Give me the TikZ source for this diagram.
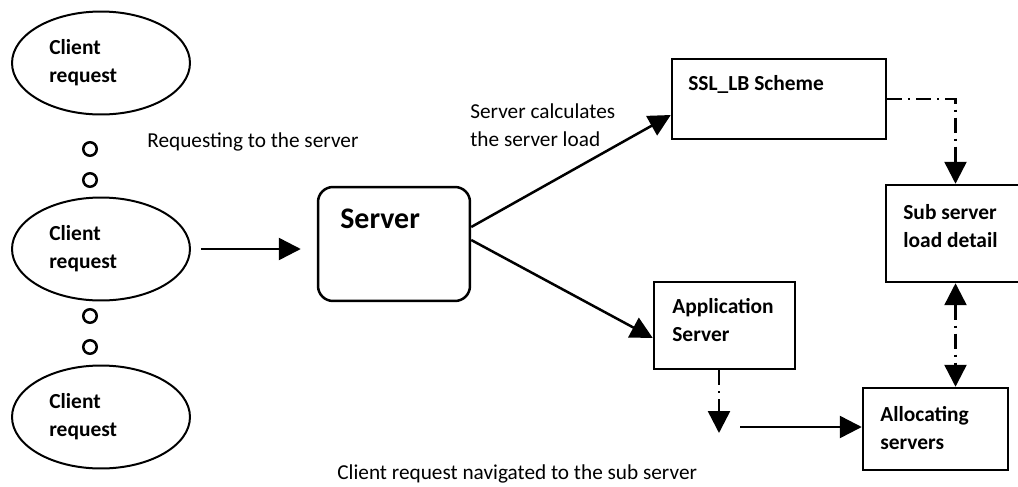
\documentclass[tikz,border=0pt]{standalone}
\usepackage{fontspec}
\setmainfont{Carlito}
\usetikzlibrary{arrows.meta,shapes.geometric}

\begin{document}
\begin{tikzpicture}[x=0.02cm, y=-0.02cm,
  tri/.tip={Triangle[length=0.44cm, width=0.44cm]},
  client/.style={draw, ellipse, line width=0.04cm, minimum width=3.56cm, minimum height=2.06cm},
  dot/.style={draw, circle, line width=0.05cm, minimum size=0.27cm, inner sep=0pt},
  box/.style={draw, line width=0.05cm, inner sep=0pt},
  txt/.style={inner sep=0pt, align=left, font=\fontsize{12.1}{16}\selectfont},
  btxt/.style={txt, font=\fontsize{12.2}{16}\selectfont\bfseries},
  link/.style={line width=0.05cm, -tri},
  dd/.style={line width=0.05cm, dash pattern=on 0.3cm off 0.12cm on 0.04cm off 0.12cm}]
  \clip (0,0) rectangle (1018,487);
  \node[client] (c1) at (101,63) {};
  \node[client] (c2) at (101,249) {};
  \node[client] (c3) at (101,417) {};
  \node[btxt, anchor=west] (t1) at ([xshift=0.76cm]c1.west) {Client\\request};
  \node[btxt, anchor=west] (t2) at ([xshift=0.76cm]c2.west) {Client\\request};
  \node[btxt, anchor=west] (t3) at ([xshift=0.76cm]c3.west) {Client\\request};
  \node[dot] (o1) at (90,149) {};
  \node[dot] (o2) at (90,180) {};
  \node[dot] (o3) at (90,316) {};
  \node[dot] (o4) at (90,347) {};
  \node[txt, anchor=west] (req) at (147,142) {Requesting to the server};

  \node[box, rounded corners=0.3cm, minimum width=3.04cm, minimum height=2.28cm] (server) at (394,244) {};
  \node[btxt, anchor=base west, font=\fontsize{17}{20}\selectfont\bfseries] (servertxt) at (340,228) {Server};
  \node[box, minimum width=4.28cm, minimum height=1.6cm] (ssl) at (779,99) {};
  \node[btxt, anchor=base west] (ssltxt) at (688,90) {SSL\_LB Scheme};
  \node[box, minimum width=2.82cm, minimum height=1.74cm] (app) at (724.5,325.5) {};
  \node[btxt, anchor=west] (apptxt) at (672,320) {Application\\Server};
  \node[box, minimum width=2.78cm, minimum height=1.94cm] (sub) at (955.5,233.5) {};
  \node[btxt, anchor=west] (subtxt) at (903,226) {Sub server\\load detail};
  \node[box, minimum width=2.9cm, minimum height=1.64cm] (alloc) at (935.5,429) {};
  \node[btxt, anchor=west] (alloctxt) at (880,428) {Allocating\\servers};
  \node[txt, anchor=west] (calc) at (470,125) {Server calculates\\the server load};
  \node[txt, anchor=west] (nav) at (337,474) {Client request navigated to the sub server};

  \draw[link, shorten <=0.2cm, shorten >=0.32cm] (c2.east) -- (c2.east -| server.west);
  \draw[link] ([yshift=0.34cm]server.east) -- ([yshift=-0.32cm]ssl.west);
  \draw[link] ([yshift=0.08cm]server.east) -- ([yshift=-0.25cm]app.west);
  \draw[dd, -tri] (ssl.east) -| (sub.north);
  \draw[dd, tri-tri] (sub.south) -- (sub.south |- alloc.north);
  \coordinate (drop) at (719,433);
  \coordinate (hand) at (740,427);
  \draw[dd, -tri] (app.south -| drop) -- (drop);
  \draw[link] (hand) -- (hand -| alloc.west);
\end{tikzpicture}
\end{document}
